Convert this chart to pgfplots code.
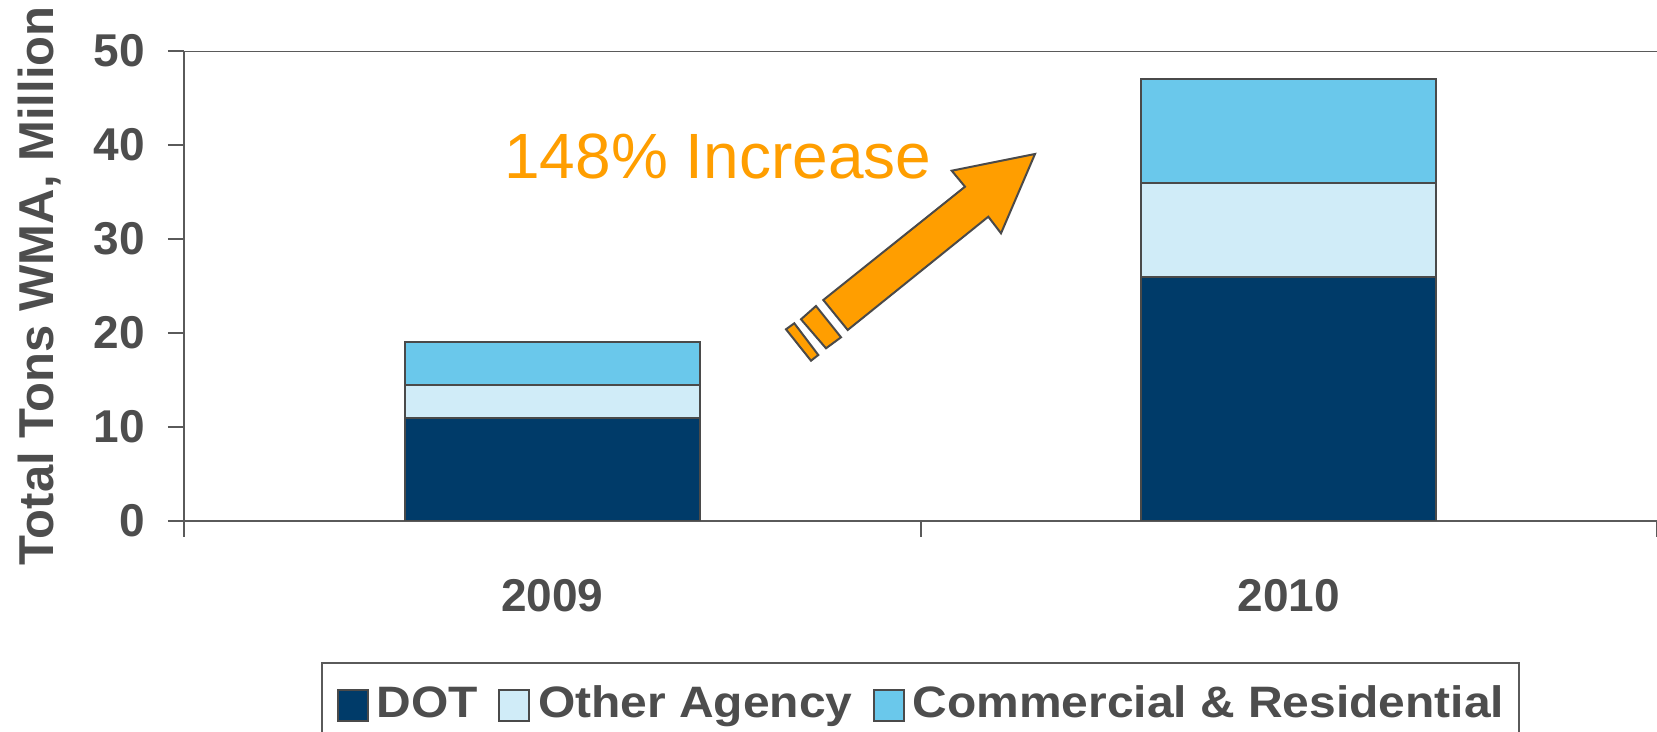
\documentclass[border=0pt]{standalone}
\usepackage{fontspec}
\setmainfont{Liberation Sans}
\newfontfamily\legfont[FakeStretch=1.09]{Liberation Sans}
\usepackage{pgfplots}
\pgfplotsset{compat=1.18}
\definecolor{txt}{HTML}{4D4D4D}
\definecolor{axgray}{HTML}{5A5A5A}
\definecolor{edge}{HTML}{4A4A4A}
\definecolor{dotc}{HTML}{003B69}
\definecolor{otherc}{HTML}{D0ECF8}
\definecolor{commc}{HTML}{6AC8EB}
\definecolor{arrorange}{HTML}{FF9E00}
\begin{document}
\begin{tikzpicture}[x=1pt,y=1pt]
\useasboundingbox (-92,-105.5) rectangle (736.5,260.5);
\begin{axis}[
  at={(0,0)}, anchor=south west,
  scale only axis, width=736.5pt, height=235pt,
  ybar stacked, bar width=0.4,
  xmin=-0.5, xmax=1.5, ymin=0, ymax=50,
  axis x line*=bottom, axis y line*=left,
  axis line style={draw=axgray, line width=1pt},
  xtick={-0.5,0.5,1.5}, xticklabels={,,},
  extra x ticks={0,1}, extra x tick labels={2009,2010},
  extra x tick style={major tick length=0pt},
  ytick={0,10,20,30,40,50},
  major tick length=8pt, tick align=outside,
  tick style={draw=axgray, line width=1pt},
  /pgf/number format/assume math mode=true,
  ticklabel style={font=\bfseries\fontsize{23}{23}\selectfont, text=txt},
  xticklabel style={anchor=base, yshift=-45pt},
  yticklabel style={xshift=-8pt},
  ylabel={Total Tons WMA, Million},
  ylabel style={at={(axis description cs:-0.0984,0.5)}, anchor=center, font=\bfseries\fontsize{24.5}{24.5}\selectfont, text=txt},
  legend columns=-1,
  legend style={at={(axis description cs:0.5,0)}, anchor=north, yshift=-70.5pt,
    draw=axgray, line width=1pt, font=\legfont\bfseries\fontsize{22}{22}\selectfont, text=txt,
    cells={anchor=west}, nodes={text height=0.75em, text depth=0.2em, inner xsep=0pt, inner ysep=2pt},
    /tikz/every odd column/.append style={column sep=4pt},
    /tikz/every even column/.append style={column sep=10pt},
    inner xsep=7.5pt, inner ysep=13pt},
  legend image code/.code={\draw[#1, line width=1pt] (0pt,-4.5pt) rectangle (15pt,11pt);},
]
\addplot[fill=dotc, draw=edge, line width=1pt] coordinates {(0,11) (1,26)};
\addplot[fill=otherc, draw=edge, line width=1pt] coordinates {(0,3.5) (1,10)};
\addplot[fill=commc, draw=edge, line width=1pt] coordinates {(0,4.5) (1,11)};
\legend{DOT, Other Agency, Commercial \& Residential}
\draw[axgray, line width=1pt] (rel axis cs:0,1) -- (rel axis cs:1,1);
\end{axis}
\begin{scope}[draw=edge, line width=1pt, fill=arrorange, line join=miter]
\filldraw (425.5,183.5) -- (383.85,175.15) -- (390.5,167.15) -- (319.65,110.5) -- (331.85,95.5) -- (402.15,152.15) -- (408.5,143.85) -- cycle;
\filldraw (308.5,100.85) -- (316,107.5) -- (328.5,91.85) -- (321,86.35) -- cycle;
\filldraw (301,95.85) -- (305.15,98.85) -- (317.15,83) -- (313.5,80.15) -- cycle;
\end{scope}
\node[anchor=base west, inner sep=0pt, font=\fontsize{32}{32}\selectfont, text=arrorange] at (160,171) {148\% Increase};
\end{tikzpicture}
\end{document}
